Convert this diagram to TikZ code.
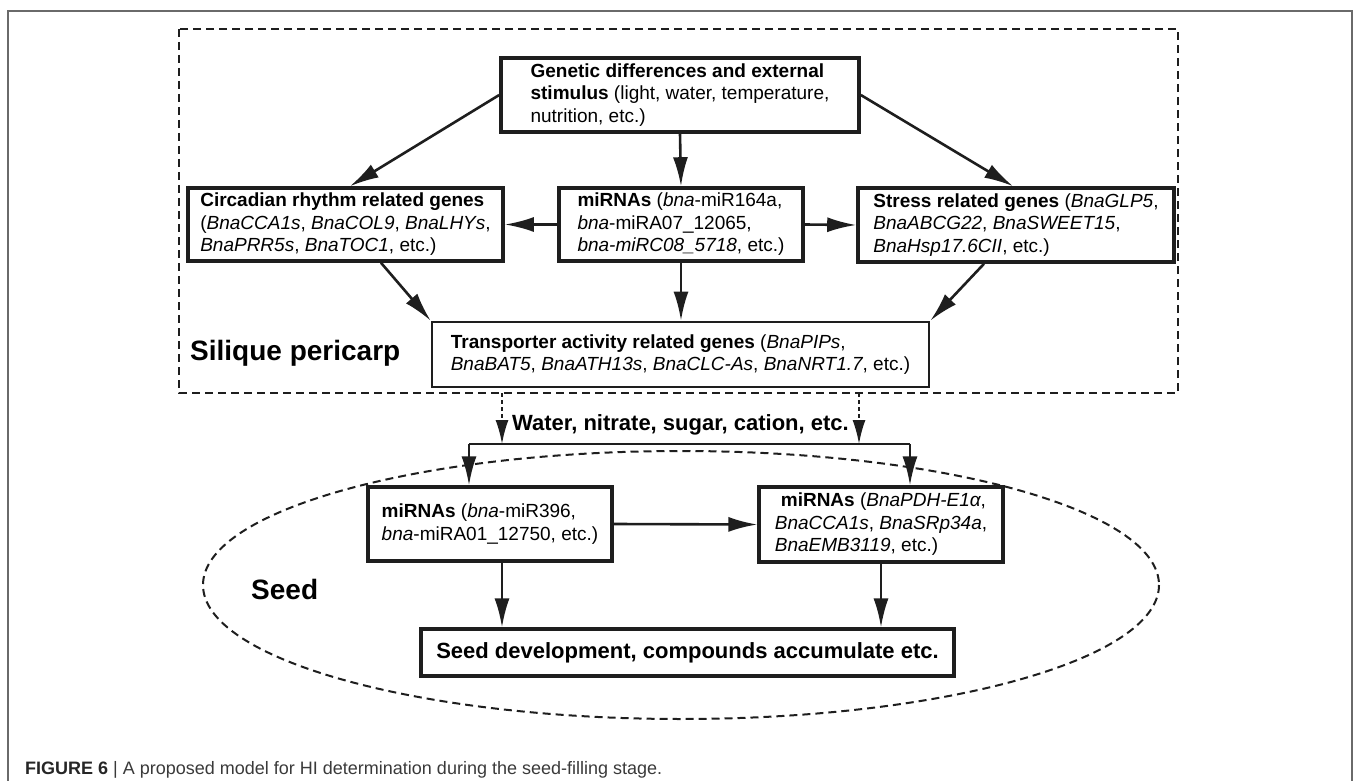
\documentclass[tikz,border=0pt]{standalone}
\usepackage{fontspec}
\setmainfont{Liberation Sans}
\usetikzlibrary{arrows.meta}
\definecolor{linec}{HTML}{1E1E1E}
\definecolor{framec}{HTML}{6A6A6A}
\definecolor{capc}{HTML}{3A3A3A}
\begin{document}
\begin{tikzpicture}[x=1pt,y=-1pt,
  bx/.style={draw=linec, line width=3.6pt, fill=white, align=left, inner xsep=8pt, inner ysep=0pt, font=\fontsize{19}{22.5}\selectfont},
  bxt/.style={bx, line width=2.8pt},
  arr/.style={draw=linec, line width=2.6pt, -{Latex[length=29pt,width=15pt]}},
  darr/.style={draw=linec, line width=1.8pt, dash pattern=on 4pt off 3pt, -{Latex[length=24pt,width=13pt]}},
  plain/.style={draw=linec, line width=2.6pt},
  lbl/.style={anchor=base west, inner sep=0pt},
  ]
\useasboundingbox (0,0) rectangle (1358,781);
% outer frame
\draw[framec, line width=1.2pt] (8,781) -- (8,11) -- (1352,11) -- (1352,781);
% silique region
\draw[linec, line width=2pt, dash pattern=on 8pt off 5pt] (179,29) rectangle (1178,393);
% seed region
\draw[linec, line width=2pt, dash pattern=on 8pt off 5pt] (681,585) ellipse [x radius=478, y radius=134];

% upper boxes
\node[bx, minimum width=358pt, minimum height=74pt] (top) at (680,95)
 {\textbf{Genetic differences and external}\\\textbf{stimulus} (light, water, temperature,\\nutrition, etc.)};
\node[bx, minimum width=315pt, minimum height=73pt] (circ) at (345.5,224.5)
 {\textbf{Circadian rhythm related genes}\\(\textit{BnaCCA1s}, \textit{BnaCOL9}, \textit{BnaLHYs},\\\textit{BnaPRR5s}, \textit{BnaTOC1}, etc.)};
\node[bx, minimum width=244pt, minimum height=73pt] (mid) at (681,224.5)
 {\textbf{miRNAs} (\textit{bna}-miR164a,\\\textit{bna}-miRA07\_12065,\\\textit{bna-miRC08\_5718}, etc.)};
\node[bx, minimum width=316pt, minimum height=74pt] (stress) at (1016,225)
 {\textbf{Stress related genes} (\textit{BnaGLP5},\\\textit{BnaABCG22}, \textit{BnaSWEET15},\\\textit{BnaHsp17.6CII}, etc.)};
\node[bxt, minimum width=497pt, minimum height=65pt] (trans) at (680.5,354.5)
 {\textbf{Transporter activity related genes} (\textit{BnaPIPs},\\\textit{BnaBAT5}, \textit{BnaATH13s}, \textit{BnaCLC-As}, \textit{BnaNRT1.7}, etc.)};

% lower boxes
\node[bxt, line width=3.2pt, minimum width=244pt, minimum height=74pt] (lmir) at (490,524)
 {\textbf{miRNAs} (\textit{bna}-miR396,\\\textit{bna}-miRA01\_12750, etc.)};
\node[bxt, line width=3.2pt, minimum width=244pt, minimum height=75pt] (rmir) at (881,524.5)
 {\hspace*{6pt}\textbf{miRNAs} (\textit{BnaPDH-E1α},\\\textit{BnaCCA1s}, \textit{BnaSRp34a},\\\textit{BnaEMB3119}, etc.)};
\node[bxt, line width=3.2pt, minimum width=533pt, minimum height=47pt, font=\bfseries\fontsize{22}{26}\selectfont] (seed) at (687.5,652.5)
 {Seed development, compounds accumulate etc.};

% labels
\node[lbl, font=\bfseries\fontsize{28}{32}\selectfont] (sil) at (190,360) {Silique pericarp};
\node[lbl, font=\bfseries\fontsize{28}{32}\selectfont] (seedlbl) at (251,599) {Seed};
\node[lbl, font=\bfseries\fontsize{22}{26}\selectfont] (water) at (512,430) {Water, nitrate, sugar, cation, etc.};
\node[lbl, font=\fontsize{18}{21}\selectfont, text=capc] (cap) at (25,774)
 {\textbf{\color{black!85}FIGURE 6} | A proposed model for HI determination during the seed-filling stage.};

% upper connectors
\draw[arr] (top.west) -- ([xshift=4.5pt]circ.north);
\draw[arr] (top.east) -- ([xshift=-3pt]stress.north);
\draw[arr] (top.south) -- (mid.north);
\draw[arr] (mid.west) -- (circ.east);
\draw[arr] (mid.east) -- (stress.west);
\draw[arr] ([xshift=35.5pt]circ.south) -- (trans.north west);
\draw[arr] ([xshift=-32pt]stress.south) -- (trans.north east);
\draw[arr] (mid.south) -- (mid.south |- trans.north);

% transfer to seed
\coordinate (d1) at (502,393);
\coordinate (d2) at (859,393);
\coordinate (hl) at (469,444);
\coordinate (hr) at (910,444);
\draw[darr] (d1) -- (d1 |- hl);
\draw[darr] (d2) -- (d2 |- hr);
\draw[plain] (hl) -- (hr);
\draw[arr] (hl) -- (hl |- lmir.north);
\draw[arr] (hr) -- (hr |- rmir.north);

% lower connectors
\draw[arr] (lmir.east) -- (rmir.west);
\draw[arr] ([xshift=12pt]lmir.south) -- ([xshift=12pt]lmir.south |- seed.north);
\draw[arr] (rmir.south) -- (rmir.south |- seed.north);
\end{tikzpicture}
\end{document}
